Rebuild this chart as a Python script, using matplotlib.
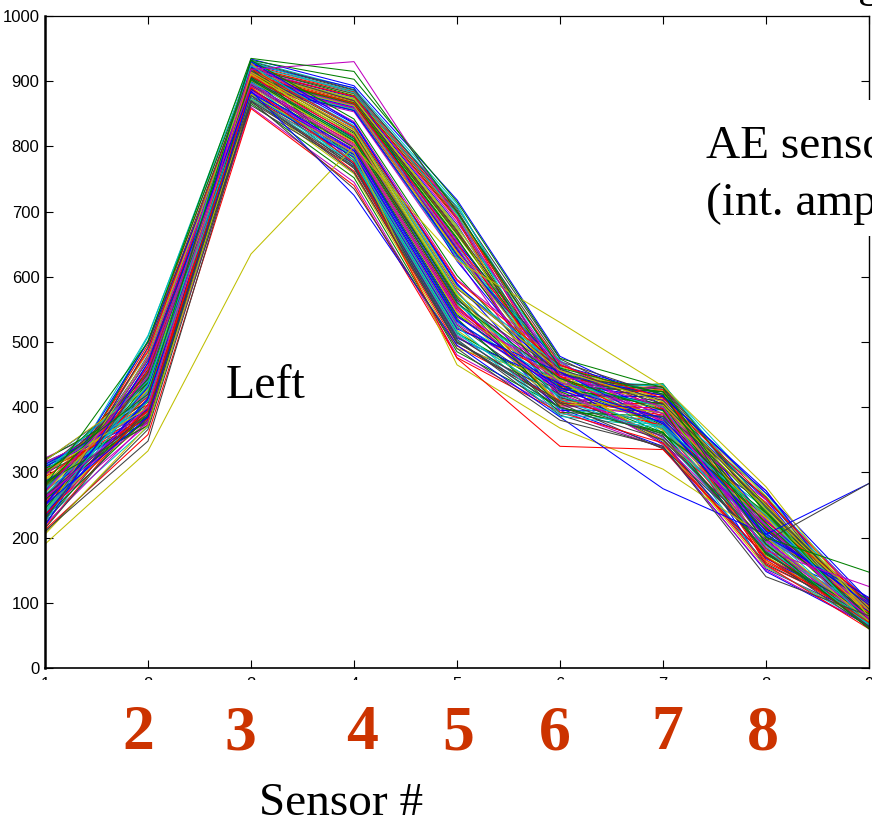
import matplotlib
matplotlib.use('Agg')
import matplotlib.pyplot as plt
from matplotlib.patches import Rectangle

W = 872
H = 819

sensor = [1, 2, 3, 4, 5, 6, 7, 8, 9]
yticks = [0, 100, 200, 300, 400, 500, 600, 700, 800, 900, 1000]
colors = ['#0000ff', '#008000', '#ff0000', '#00bfbf', '#bf00bf', '#bfbf00', '#404040']

# upper bundle, high on sensors 4 and 5
upper = [
    [318, 428, 934, 893, 718, 478, 404, 226, 78],
    [226, 508, 931, 889, 712, 440, 434, 262, 99],
    [305, 436, 928, 886, 706, 474, 398, 205, 92],
    [238, 496, 925, 884, 700, 436, 432, 248, 68],
    [290, 412, 922, 880, 695, 462, 412, 190, 84],
    [232, 502, 920, 878, 690, 428, 436, 236, 95],
    [276, 420, 918, 876, 684, 458, 385, 272, 70],
    [248, 476, 916, 875, 680, 432, 424, 176, 106],
    [262, 440, 914, 873, 676, 468, 394, 222, 64],
    [256, 462, 912, 871, 672, 425, 431, 218, 88],
    [312, 404, 910, 869, 668, 447, 378, 254, 72],
    [244, 484, 908, 868, 664, 452, 425, 164, 86],
    [298, 450, 906, 866, 660, 418, 416, 242, 68],
    [230, 490, 904, 864, 656, 441, 370, 202, 98],
    [224, 468, 902, 862, 652, 464, 420, 198, 62],
    [314, 392, 900, 861, 648, 438, 402, 268, 78],
    [308, 416, 898, 859, 644, 436, 428, 190, 74],
    [300, 424, 896, 858, 640, 412, 388, 232, 93],
    [294, 432, 894, 856, 636, 456, 408, 182, 70],
    [236, 472, 892, 855, 632, 431, 375, 214, 102],
    [280, 452, 890, 853, 628, 405, 433, 175, 85],
    [272, 446, 926, 890, 624, 433, 404, 258, 66],
    [242, 510, 923, 885, 708, 456, 365, 244, 64],
    [258, 444, 919, 881, 698, 470, 418, 210, 97],
    [252, 486, 915, 877, 688, 416, 427, 158, 83],
    [286, 408, 911, 872, 678, 443, 382, 212, 75],
    [240, 458, 907, 867, 666, 451, 423, 250, 89],
    [322, 398, 903, 863, 654, 400, 407, 196, 71],
    [226, 480, 899, 860, 642, 435, 415, 228, 79],
    [220, 434, 895, 857, 630, 472, 360, 180, 67],
    [316, 386, 930, 887, 703, 444, 431, 238, 101],
    [302, 410, 921, 883, 692, 466, 396, 170, 87],
    [288, 426, 913, 874, 674, 422, 420, 264, 77],
    [274, 454, 905, 865, 658, 445, 372, 216, 73],
    [260, 442, 897, 859, 646, 410, 412, 200, 69],
    [248, 500, 893, 855, 634, 460, 390, 184, 65],
    [310, 394, 929, 882, 696, 426, 435, 246, 104],
    [296, 438, 917, 870, 670, 455, 380, 234, 91],
    [234, 464, 909, 866, 650, 447, 418, 220, 81],
    [268, 448, 901, 862, 638, 438, 368, 192, 72],
]

# lower bundle, sensors 4 and 5 drop further
lower = [
    [320, 408, 932, 842, 602, 432, 424, 214, 76],
    [315, 392, 926, 838, 596, 470, 376, 258, 100],
    [309, 384, 922, 835, 590, 418, 416, 272, 66],
    [304, 402, 918, 832, 586, 462, 352, 180, 92],
    [299, 378, 915, 829, 582, 458, 410, 246, 89],
    [293, 394, 912, 826, 578, 402, 407, 166, 70],
    [288, 372, 909, 823, 574, 452, 364, 236, 84],
    [283, 390, 906, 820, 570, 428, 402, 198, 104],
    [232, 474, 903, 817, 566, 446, 342, 228, 62],
    [272, 386, 900, 814, 562, 395, 396, 152, 77],
    [266, 418, 898, 811, 558, 440, 370, 220, 96],
    [261, 382, 895, 808, 554, 414, 391, 262, 73],
    [228, 456, 892, 805, 550, 434, 350, 212, 86],
    [250, 378, 890, 802, 546, 408, 385, 172, 70],
    [244, 438, 887, 799, 542, 428, 405, 240, 68],
    [239, 374, 884, 796, 538, 455, 379, 200, 94],
    [233, 412, 881, 793, 534, 398, 340, 148, 65],
    [228, 370, 878, 790, 530, 438, 400, 192, 82],
    [222, 410, 875, 787, 526, 416, 358, 252, 62],
    [216, 404, 872, 784, 522, 448, 367, 184, 61],
    [318, 430, 928, 781, 518, 410, 392, 230, 98],
    [306, 376, 920, 778, 514, 424, 361, 176, 74],
    [296, 422, 913, 775, 510, 404, 386, 218, 90],
    [286, 384, 905, 772, 506, 436, 346, 168, 87],
    [275, 409, 897, 769, 502, 398, 378, 204, 63],
    [264, 380, 889, 766, 498, 420, 349, 160, 80],
    [253, 397, 881, 762, 494, 410, 372, 224, 106],
    [242, 391, 873, 758, 490, 442, 343, 154, 72],
    [231, 385, 866, 752, 485, 400, 362, 178, 69],
    [220, 379, 860, 745, 480, 395, 337, 150, 66],
    [312, 396, 930, 836, 588, 450, 418, 268, 103],
    [301, 440, 924, 828, 576, 412, 355, 208, 67],
    [224, 492, 916, 822, 564, 453, 405, 249, 91],
    [280, 416, 908, 815, 556, 406, 398, 162, 85],
    [269, 428, 901, 806, 544, 441, 348, 230, 82],
    [258, 388, 894, 798, 536, 392, 386, 222, 78],
    [247, 460, 886, 791, 528, 429, 344, 188, 74],
    [236, 414, 879, 783, 520, 454, 374, 206, 100],
    [225, 448, 871, 776, 512, 417, 368, 156, 67],
    [214, 400, 863, 768, 504, 388, 338, 190, 63],
    [303, 382, 919, 830, 594, 464, 414, 260, 95],
    [236, 478, 911, 818, 572, 404, 403, 243, 88],
    [278, 443, 902, 809, 560, 444, 395, 174, 83],
    [263, 376, 893, 800, 548, 422, 354, 218, 76],
    [251, 431, 883, 788, 532, 426, 377, 202, 108],
    [238, 425, 874, 779, 516, 386, 369, 186, 66],
    [227, 452, 868, 770, 500, 406, 336, 170, 62],
    [212, 358, 858, 740, 476, 392, 345, 158, 60],
    [300, 400, 914, 825, 584, 456, 408, 250, 93],
    [285, 372, 904, 812, 568, 400, 360, 238, 68],
    [270, 447, 896, 803, 552, 438, 390, 194, 79],
    [218, 468, 888, 794, 540, 430, 383, 210, 97],
    [241, 435, 880, 785, 524, 390, 372, 234, 68],
    [208, 366, 870, 773, 508, 408, 356, 178, 64],
]

# single lines that leave the bundle
outliers = [
    ([190, 333, 635, 800, 625, 530, 432, 278, 78], '#bfbf00'),
    ([205, 372, 880, 790, 465, 368, 305, 200, 72], '#bfbf00'),
    ([235, 395, 890, 775, 475, 340, 335, 170, 70], '#ff0000'),
    ([250, 385, 885, 725, 495, 385, 275, 205, 283], '#0000ff'),
    ([265, 390, 878, 760, 500, 400, 350, 195, 283], '#404040'),
    ([210, 348, 870, 735, 490, 380, 340, 140, 80], '#404040'),
    ([300, 420, 932, 903, 715, 475, 430, 200, 147], '#008000'),
    ([260, 400, 918, 930, 690, 450, 400, 180, 125], '#bf00bf'),
    ([280, 500, 935, 915, 700, 460, 420, 190, 60], '#008000'),
]

fig = plt.figure(figsize=(W / 100, H / 100), dpi=100)
ax = fig.add_axes([45 / W, 1 - 668 / H, 824 / W, 652 / H])

rows = upper + lower
for i, r in enumerate(rows):
    ax.plot(sensor, r, c=colors[i * 3 % 7], lw=0.75)
for r, c in outliers:
    ax.plot(sensor, r, c=c, lw=0.75)

ax.set_xlim(1, 9)
ax.set_ylim(0, 1000)
ax.set_xticks(sensor)
ax.set_yticks(yticks)
ax.tick_params(direction='in', top=True, right=True, length=6, width=0.8, pad=4,
               labelsize=12)
ax.tick_params(axis='x', pad=6.5)
for lab in ax.get_xticklabels() + ax.get_yticklabels():
    lab.set_family('Liberation Sans')
ax.spines['left'].set_linewidth(1.8)
ax.spines['bottom'].set_linewidth(1.2)
ax.spines['top'].set_linewidth(0.9)
ax.spines['right'].set_linewidth(1.0)

# pasted white panels over the plot
fig.add_artist(Rectangle((0, 0), 1, 1 - 680 / H, fc='white', ec='none', zorder=5))
fig.add_artist(Rectangle((700 / W, 1 - 236 / H), 172 / W, 136 / H, fc='white', ec='none', zorder=5))

serif = dict(family='Liberation Serif', zorder=6)
fig.text(226 / W, 1 - 398 / H, 'Left', fontsize=34.5, **serif)
fig.text(706 / W, 1 - 158 / H, 'AE sensors', fontsize=34, **serif)
fig.text(706 / W, 1 - 215 / H, '(int. amp', fontsize=34, **serif)
fig.text(259 / W, 1 - 815 / H, 'Sensor #', fontsize=34, **serif)
fig.text(858 / W, 1 - (-4) / H, 'g', fontsize=34, **serif)

nums = ['2', '3', '4', '5', '6', '7', '8']
num_x = [138, 240, 362, 458, 555, 667, 763]
for n, x in zip(nums, num_x):
    fig.text(x / W, 1 - 749 / H, n, fontsize=46, fontweight='bold', color='#cc3300',
             ha='center', **serif)

fig.savefig('out.png', dpi=100)
